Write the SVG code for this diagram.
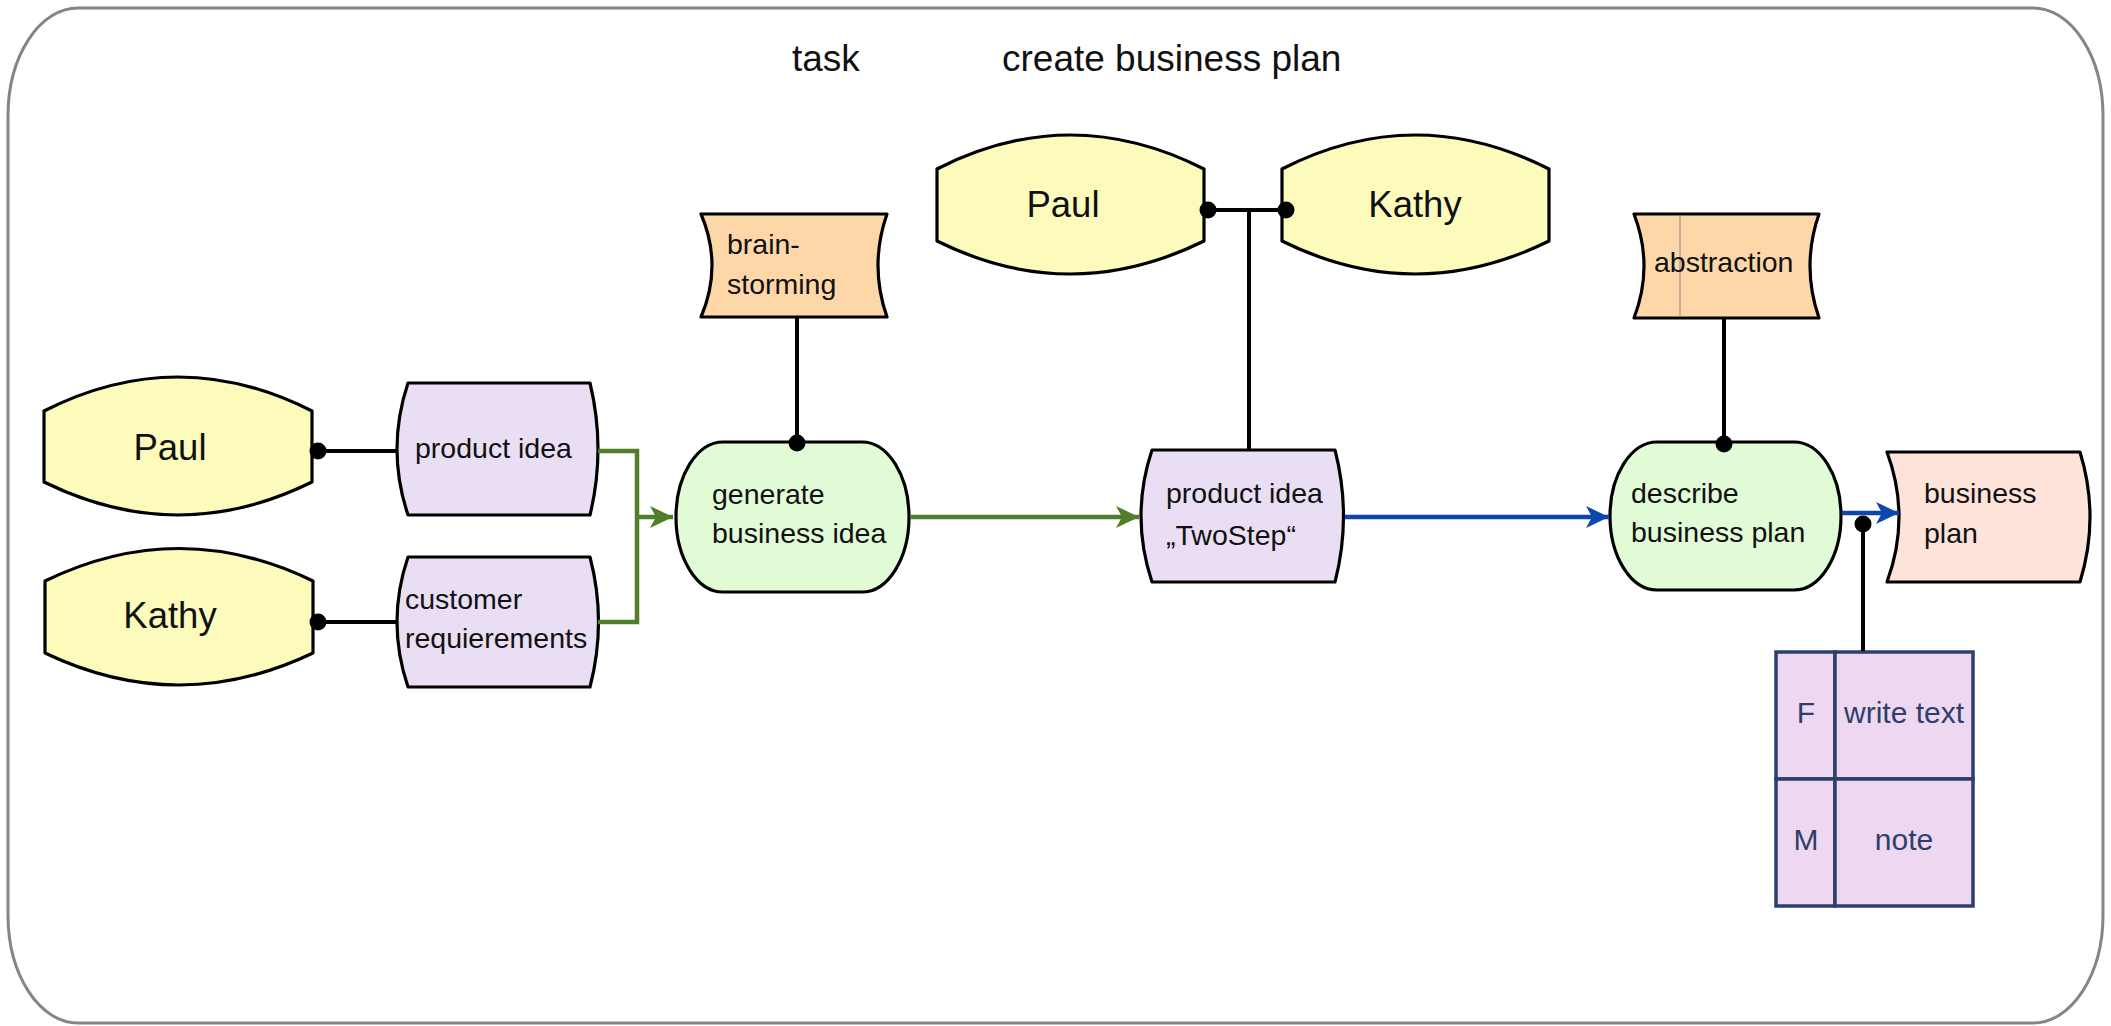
<svg xmlns="http://www.w3.org/2000/svg" width="2111" height="1026" viewBox="0 0 2111 1026">
  <style>
    .frame { fill: #ffffff; stroke: #858585; stroke-width: 3; }
    .outline { stroke: #000000; stroke-width: 3.2; stroke-linejoin: round; }
    .person { fill: #fdfbbb; }
    .info { fill: #e9def4; }
    .func { fill: #e1fbd7; }
    .method { fill: #fed7a8; }
    .output { fill: #fde3da; }
    .txt { font-family: "Liberation Sans", Arial, sans-serif; fill: #111111; }
    .name { font-size: 36.5px; text-anchor: middle; }
    .lbl { font-size: 28.5px; }
    .title { font-size: 37px; }
    .link { stroke: #000000; stroke-width: 4; fill: none; }
    .flowG { stroke: #4f7f2b; stroke-width: 4.5; fill: none; }
    .flowB { stroke: #0d47ab; stroke-width: 4.5; fill: none; }
    .dot { fill: #000000; }
    .cell { fill: #edd7f1; stroke: #2e3f6b; stroke-width: 3.5; }
    .ctxt { font-family: "Liberation Sans", Arial, sans-serif; font-size: 30px; fill: #2e3f6b; text-anchor: middle; }
  </style>
  <defs>
    <marker id="arrowGreen" markerUnits="userSpaceOnUse" viewBox="0 0 24 24" markerWidth="24" markerHeight="24" refX="23" refY="12" orient="auto">
      <path d="M0,1 L23,12 L0,23 L6,12 Z" fill="#4f7f2b"/>
    </marker>
    <marker id="arrowBlue" markerUnits="userSpaceOnUse" viewBox="0 0 24 24" markerWidth="24" markerHeight="24" refX="23" refY="12" orient="auto">
      <path d="M0,1 L23,12 L0,23 L6,12 Z" fill="#0d47ab"/>
    </marker>
  </defs>

  <!-- outer frame of the model -->
  <rect class="frame" x="8" y="8" width="2095" height="1015" rx="70" ry="108"/>

  <g id="title">
    <text class="txt title" x="792" y="71">task</text>
    <text class="txt title" x="1002" y="71">create business plan</text>
  </g>

  <!-- persons -->
  <g id="person-paul-left">
    <path class="person outline" d="M44,411 Q178,343 312,411 V482 Q178,548 44,482 Z"/>
    <text class="txt name" x="170" y="460">Paul</text>
  </g>
  <g id="person-kathy-left">
    <path class="person outline" d="M45,581 Q179,516 313,581 V653 Q179,717 45,653 Z"/>
    <text class="txt name" x="170" y="628">Kathy</text>
  </g>
  <g id="person-paul-top">
    <path class="person outline" d="M937,169 Q1070,101 1204,169 V241 Q1070,307 937,241 Z"/>
    <text class="txt name" x="1063" y="217">Paul</text>
  </g>
  <g id="person-kathy-top">
    <path class="person outline" d="M1282,169 Q1415,101 1549,169 V241 Q1415,307 1282,241 Z"/>
    <text class="txt name" x="1415" y="217">Kathy</text>
  </g>

  <!-- information objects -->
  <g id="info-product-idea">
    <path class="info outline" d="M408,383 H590 Q606,449 590,515 H408 Q386,449 408,383 Z"/>
    <text class="txt lbl" x="415" y="458">product idea</text>
  </g>
  <g id="info-customer-requirements">
    <path class="info outline" d="M408,557 H590 Q607,622 590,687 H408 Q386,622 408,557 Z"/>
    <text class="txt lbl" x="405" y="609">customer</text>
    <text class="txt lbl" x="405" y="648">requierements</text>
  </g>
  <g id="info-product-idea-twostep">
    <path class="info outline" d="M1152,450 H1335 Q1352,516 1335,582 H1152 Q1130,516 1152,450 Z"/>
    <text class="txt lbl" x="1166" y="503">product idea</text>
    <text class="txt lbl" x="1166" y="545">„TwoStep“</text>
  </g>

  <!-- functions -->
  <g id="func-generate-business-idea">
    <rect class="func outline" x="676" y="442" width="233" height="150" rx="47" ry="75"/>
    <text class="txt lbl" x="712" y="504">generate</text>
    <text class="txt lbl" x="712" y="543">business idea</text>
  </g>
  <g id="func-describe-business-plan">
    <rect class="func outline" x="1610" y="442" width="231" height="148" rx="47" ry="74"/>
    <text class="txt lbl" x="1631" y="503">describe</text>
    <text class="txt lbl" x="1631" y="542">business plan</text>
  </g>

  <!-- methods -->
  <g id="method-brainstorming">
    <path class="method outline" d="M701,214 H887 Q869,265.5 887,317 H701 Q723,265.5 701,214 Z"/>
    <text class="txt lbl" x="727" y="254">brain-</text>
    <text class="txt lbl" x="727" y="294">storming</text>
  </g>
  <g id="method-abstraction">
    <path class="method outline" d="M1634,214 H1819 Q1801,266 1819,318 H1634 Q1654,266 1634,214 Z"/>
    <line x1="1680" y1="215" x2="1680" y2="317" stroke="#8a8a8a" stroke-width="1"/>
    <text class="txt lbl" x="1654" y="272">abstraction</text>
  </g>

  <!-- output -->
  <g id="output-business-plan">
    <path class="output outline" d="M1887,452 H2080 Q2100,517 2080,582 H1887 Q1911,517 1887,452 Z"/>
    <text class="txt lbl" x="1924" y="503">business</text>
    <text class="txt lbl" x="1924" y="543">plan</text>
  </g>

  <!-- application system table -->
  <g id="system-table">
    <rect class="cell" x="1776" y="652" width="59" height="127"/>
    <rect class="cell" x="1835" y="652" width="138" height="127"/>
    <rect class="cell" x="1776" y="779" width="59" height="127"/>
    <rect class="cell" x="1835" y="779" width="138" height="127"/>
    <text class="ctxt" x="1806" y="723">F</text>
    <text class="ctxt" x="1904" y="723">write text</text>
    <text class="ctxt" x="1806" y="850">M</text>
    <text class="ctxt" x="1904" y="850">note</text>
  </g>

  <!-- connectors, drawn over the node borders so the end dots stay whole -->
  <g id="connectors">
    <!-- person to input data -->
    <line class="link" x1="318" y1="451" x2="398" y2="451"/>
    <line class="link" x1="318" y1="622" x2="398" y2="622"/>
    <circle class="dot" cx="318" cy="451" r="8.5"/>
    <circle class="dot" cx="318" cy="622" r="8.5"/>
    <!-- inputs merge into generate business idea -->
    <polyline class="flowG" points="598,451 637,451 637,622 598,622"/>
    <line class="flowG" x1="637" y1="517" x2="673" y2="517" marker-end="url(#arrowGreen)"/>
    <!-- brainstorming to generate -->
    <line class="link" x1="797" y1="318" x2="797" y2="442"/>
    <circle class="dot" cx="797" cy="443" r="8.5"/>
    <!-- generate to product idea TwoStep -->
    <line class="flowG" x1="910" y1="517" x2="1139" y2="517" marker-end="url(#arrowGreen)"/>
    <!-- Paul / Kathy to product idea TwoStep -->
    <line class="link" x1="1208" y1="210" x2="1286" y2="210"/>
    <line class="link" x1="1249" y1="210" x2="1249" y2="449"/>
    <circle class="dot" cx="1208" cy="210" r="8.5"/>
    <circle class="dot" cx="1286" cy="210" r="8.5"/>
    <!-- product idea TwoStep to describe business plan -->
    <line class="flowB" x1="1345" y1="517" x2="1609" y2="517" marker-end="url(#arrowBlue)"/>
    <!-- abstraction to describe -->
    <line class="link" x1="1724" y1="319" x2="1724" y2="442"/>
    <circle class="dot" cx="1724" cy="444" r="8.5"/>
    <!-- describe to business plan -->
    <line class="flowB" x1="1842" y1="513" x2="1899" y2="513" marker-end="url(#arrowBlue)"/>
    <!-- application system to output -->
    <line class="link" x1="1863" y1="524" x2="1863" y2="651"/>
    <circle class="dot" cx="1863" cy="524" r="8.5"/>
  </g>
</svg>
